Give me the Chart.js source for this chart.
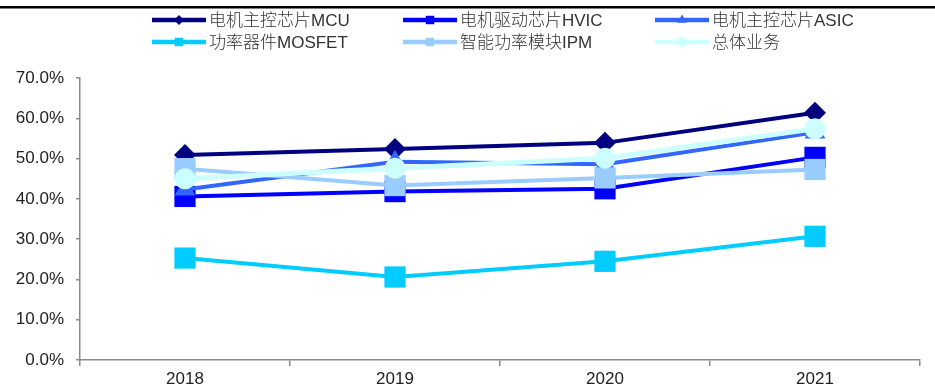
<!DOCTYPE html>
<html>
<head>
<meta charset="utf-8">
<script src="https://cdn.jsdelivr.net/npm/chart.js@4/dist/chart.umd.min.js"></script>
<style>
  html, body { margin: 0; padding: 0; background: #fff; }
  #wrap { width: 935px; height: 387px; position: relative; }
</style>
</head>
<body>
<div id="wrap"><canvas id="c" width="935" height="387"></canvas></div>
<script>
// Years on the category axis
const years = ['2018', '2019', '2020', '2021'];

// Gross margin by product line (%)
const mcu    = [50.9, 52.4, 53.9, 61.4];
const hvic   = [40.6, 41.8, 42.5, 50.3];
const asic   = [42.3, 49.2, 48.6, 56.5];
const mosfet = [25.3, 20.6, 24.5, 30.7];
const ipm    = [47.5, 43.3, 45.2, 47.3];
const total  = [45.0, 47.6, 50.1, 57.4];

// Series names
const names = ['电机主控芯片MCU', '电机驱动芯片HVIC', '电机主控芯片ASIC',
               '功率器件MOSFET', '智能功率模块IPM', '总体业务'];

// Y axis range and step (%)
const yMin = 0, yMax = 70, yStep = 10;

const colors  = ['#000080', '#0000FF', '#3366FF', '#00CCFF', '#99CCFF', '#CCFFFF'];
const styles  = ['rectRot', 'rect', 'triangle', 'rect', 'rect', 'circle'];
const radii   = [11, 15, 12, 15, 15, 10.5];
const widths  = [4, 4, 4, 4, 4, 5];
const legendR = [5, 6, 5.5, 6, 6, 5];
const series  = [mcu, hvic, asic, mosfet, ipm, total];

const datasets = series.map((vals, i) => ({
  label: names[i],
  data: vals,
  borderColor: colors[i],
  backgroundColor: colors[i],
  borderWidth: widths[i],
  pointStyle: styles[i],
  pointRadius: radii[i],
  pointHoverRadius: radii[i],
  pointBackgroundColor: colors[i],
  pointBorderColor: colors[i],
  pointBorderWidth: 0,
  tension: 0,
  fill: false,
  // later series are painted over earlier ones
  order: series.length - i
}));

// Two-row, three-column legend plus the rule along the top edge
const topDecor = {
  id: 'topDecor',
  afterDraw(chart) {
    const ctx = chart.ctx;
    ctx.save();
    ctx.fillStyle = '#000';
    ctx.fillRect(0, 6, 935, 2.5);

    const colX = [152, 403, 655];
    const rowY = [20, 42];
    ctx.font = "300 17px 'Liberation Sans', Arial, 'Noto Sans CJK SC'";
    ctx.textBaseline = 'middle';
    ctx.textAlign = 'left';
    names.forEach((name, i) => {
      const x0 = colX[i % 3];
      const y = rowY[Math.floor(i / 3)];
      ctx.strokeStyle = colors[i];
      ctx.lineWidth = 4.5;
      ctx.lineCap = 'butt';
      ctx.beginPath();
      ctx.moveTo(x0, y);
      ctx.lineTo(x0 + 54, y);
      ctx.stroke();
      ctx.fillStyle = colors[i];
      ctx.strokeStyle = colors[i];
      ctx.lineWidth = 0;
      Chart.helpers.drawPoint(ctx, { pointStyle: styles[i], radius: legendR[i], rotation: 0, borderWidth: 0 }, x0 + 27, y);
      ctx.fillStyle = '#333';
      ctx.fillText(name, x0 + 57, y + 1);
    });
    ctx.restore();
  }
};

new Chart(document.getElementById('c'), {
  type: 'line',
  data: { labels: years, datasets },
  options: {
    responsive: false,
    animation: false,
    events: [],
    layout: { padding: { top: 78, right: 9, left: 0, bottom: 0 } },
    plugins: { legend: { display: false }, tooltip: { enabled: false } },
    scales: {
      x: {
        type: 'category',
        offset: true,
        grid: {
          offset: true,
          drawOnChartArea: false,
          drawTicks: true,
          tickLength: 6,
          color: '#8a8a8a',
          lineWidth: 1.5
        },
        border: { color: '#8a8a8a', width: 1.5 },
        ticks: {
          color: '#222',
          font: { family: "'Liberation Sans', Arial", size: 17 },
          padding: 3,
          maxRotation: 0
        },
        afterFit(scale) { scale.height = 27; }
      },
      y: {
        min: yMin,
        max: yMax,
        grid: {
          drawOnChartArea: false,
          drawTicks: true,
          tickLength: 4,
          color: '#8a8a8a',
          lineWidth: 1.5
        },
        border: { color: '#8a8a8a', width: 1.5 },
        ticks: {
          stepSize: yStep,
          color: '#222',
          font: { family: "'Liberation Sans', Arial", size: 17 },
          padding: 12,
          callback: v => v.toFixed(1) + '%'
        },
        afterFit(scale) { scale.width = 80; }
      }
    }
  },
  plugins: [topDecor]
});
</script>
</body>
</html>
